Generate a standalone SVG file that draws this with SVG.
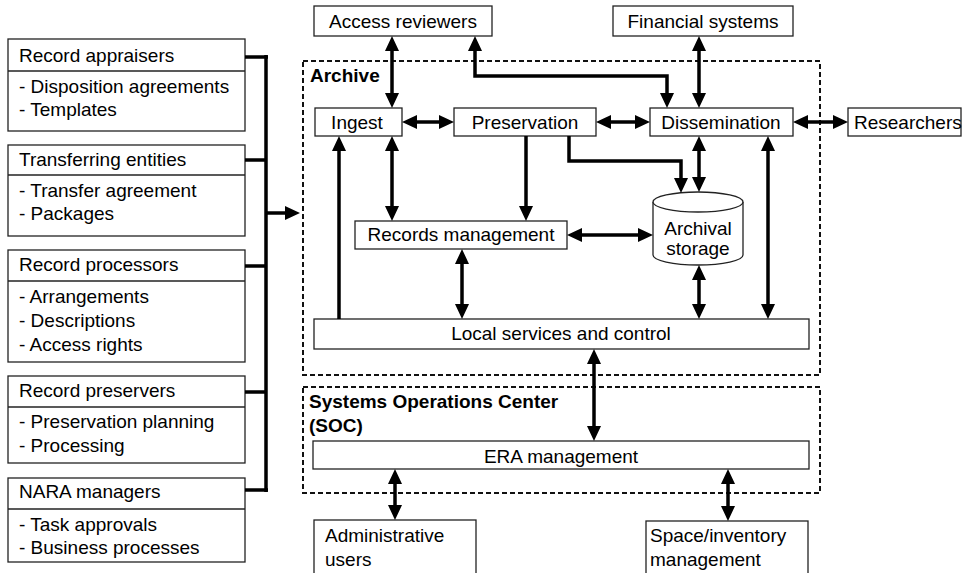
<svg xmlns="http://www.w3.org/2000/svg" width="962" height="573" viewBox="0 0 962 573">
<style>
text{font-family:"Liberation Sans",Arial,Helvetica,sans-serif;font-size:19px;fill:#000}
.b{font-weight:bold}
.m{text-anchor:middle}
.box{fill:#fff;stroke:#222;stroke-width:1.3}
.dash{fill:none;stroke:#111;stroke-width:2;stroke-dasharray:5,3}
.c{fill:none;stroke:#000;stroke-width:3.5}
.bus{fill:none;stroke:#000;stroke-width:3.5}
</style>
<defs>
<marker id="ah" markerUnits="userSpaceOnUse" markerWidth="16" markerHeight="14" refX="7" refY="7" orient="auto-start-reverse" overflow="visible">
<path d="M0,0 L15,7 L0,14 z" fill="#000"/>
</marker>
</defs>
<rect width="962" height="573" fill="#fff"/>

<g id="archive-region"><rect class="dash" x="303" y="61" width="517" height="314"/><text class="b" x="310" y="82">Archive</text></g>
<g id="soc-region"><rect class="dash" x="303" y="387" width="517" height="106"/><text class="b" x="309" y="408">Systems Operations Center</text><text class="b" x="309" y="432">(SOC)</text></g>

<g id="record-appraisers"><rect class="box" x="8" y="39" width="237" height="92"/><line class="box" x1="8" y1="71" x2="245" y2="71"/><text x="19" y="62">Record appraisers</text><text x="19" y="93">- Disposition agreements</text><text x="19" y="116">- Templates</text></g>
<g id="transferring-entities"><rect class="box" x="8" y="145" width="237" height="91"/><line class="box" x1="8" y1="175" x2="245" y2="175"/><text x="19" y="166">Transferring entities</text><text x="19" y="197">- Transfer agreement</text><text x="19" y="220">- Packages</text></g>
<g id="record-processors"><rect class="box" x="8" y="250" width="237" height="112"/><line class="box" x1="8" y1="281" x2="245" y2="281"/><text x="19" y="271">Record processors</text><text x="19" y="303">- Arrangements</text><text x="19" y="327">- Descriptions</text><text x="19" y="351">- Access rights</text></g>
<g id="record-preservers"><rect class="box" x="8" y="376" width="237" height="87"/><line class="box" x1="8" y1="407" x2="245" y2="407"/><text x="19" y="397">Record preservers</text><text x="19" y="428">- Preservation planning</text><text x="19" y="452">- Processing</text></g>
<g id="nara-managers"><rect class="box" x="8" y="478" width="237" height="84"/><line class="box" x1="8" y1="509" x2="245" y2="509"/><text x="19" y="498">NARA managers</text><text x="19" y="531">- Task approvals</text><text x="19" y="554">- Business processes</text></g>

<g id="access-reviewers"><rect class="box" x="314" y="6" width="178" height="30"/><text class="m" x="403" y="28">Access reviewers</text></g>
<g id="financial-systems"><rect class="box" x="613" y="6" width="180" height="30"/><text class="m" x="703" y="28">Financial systems</text></g>
<g id="ingest"><rect class="box" x="315" y="108" width="87" height="28"/><text class="m" x="357" y="129">Ingest</text></g>
<g id="preservation"><rect class="box" x="454" y="108" width="142" height="28"/><text class="m" x="525" y="129">Preservation</text></g>
<g id="dissemination"><rect class="box" x="650" y="108" width="143" height="28"/><text class="m" x="721" y="129">Dissemination</text></g>
<g id="researchers"><rect class="box" x="848" y="108" width="113" height="28"/><text x="854" y="129">Researchers</text></g>
<g id="records-management"><rect class="box" x="355" y="221" width="212" height="28"/><text class="m" x="461" y="241">Records management</text></g>
<g id="archival-storage"><path class="box" d="M653,202 A45,10 0 0 1 743,202 L743,255 A45,10 0 0 1 653,255 Z"/><path class="box" d="M653,202 A45,10 0 0 0 743,202"/><text class="m" x="698" y="235">Archival</text><text class="m" x="698" y="255">storage</text></g>
<g id="local-services"><rect class="box" x="314" y="319" width="495" height="30"/><text class="m" x="561" y="340">Local services and control</text></g>
<g id="era-management"><rect class="box" x="313" y="441" width="496" height="28"/><text class="m" x="561" y="463">ERA management</text></g>
<g id="administrative-users"><rect class="box" x="314" y="520" width="162" height="70"/><text x="325" y="542">Administrative</text><text x="325" y="566">users</text></g>
<g id="space-inventory"><rect class="box" x="646" y="521" width="162" height="70"/><text x="650" y="542">Space/inventory</text><text x="650" y="566">management</text></g>

<g id="connectors">
<path class="bus" d="M266,55 L266,492 M245,57 L268,57 M245,160 L266,160 M245,266 L266,266 M245,392 L266,392 M245,490 L268,490"/>
<path class="c" d="M266,213 L292,213" marker-end="url(#ah)"/>
<path class="c" d="M392,44 L392,100" marker-start="url(#ah)" marker-end="url(#ah)"/>
<path class="c" d="M475,44 L475,76 L667,76 L667,100" marker-start="url(#ah)" marker-end="url(#ah)"/>
<path class="c" d="M699,44 L699,100" marker-start="url(#ah)" marker-end="url(#ah)"/>
<path class="c" d="M410,122 L446,122" marker-start="url(#ah)" marker-end="url(#ah)"/>
<path class="c" d="M604,122 L642,122" marker-start="url(#ah)" marker-end="url(#ah)"/>
<path class="c" d="M801,122 L840,122" marker-start="url(#ah)" marker-end="url(#ah)"/>
<path class="c" d="M569,136 L569,161 L681,161 L681,185" marker-end="url(#ah)"/>
<path class="c" d="M699,144 L699,184" marker-start="url(#ah)" marker-end="url(#ah)"/>
<path class="c" d="M526,136 L526,213" marker-end="url(#ah)"/>
<path class="c" d="M392,144 L392,213" marker-start="url(#ah)" marker-end="url(#ah)"/>
<path class="c" d="M339,319 L339,144" marker-end="url(#ah)"/>
<path class="c" d="M575,235 L645,235" marker-start="url(#ah)" marker-end="url(#ah)"/>
<path class="c" d="M462,257 L462,311" marker-start="url(#ah)" marker-end="url(#ah)"/>
<path class="c" d="M699,273 L699,311" marker-start="url(#ah)" marker-end="url(#ah)"/>
<path class="c" d="M768,144 L768,311" marker-start="url(#ah)" marker-end="url(#ah)"/>
<path class="c" d="M594,357 L594,433" marker-start="url(#ah)" marker-end="url(#ah)"/>
<path class="c" d="M395,477 L395,512" marker-start="url(#ah)" marker-end="url(#ah)"/>
<path class="c" d="M728,477 L728,513" marker-start="url(#ah)" marker-end="url(#ah)"/>
</g>
</svg>
